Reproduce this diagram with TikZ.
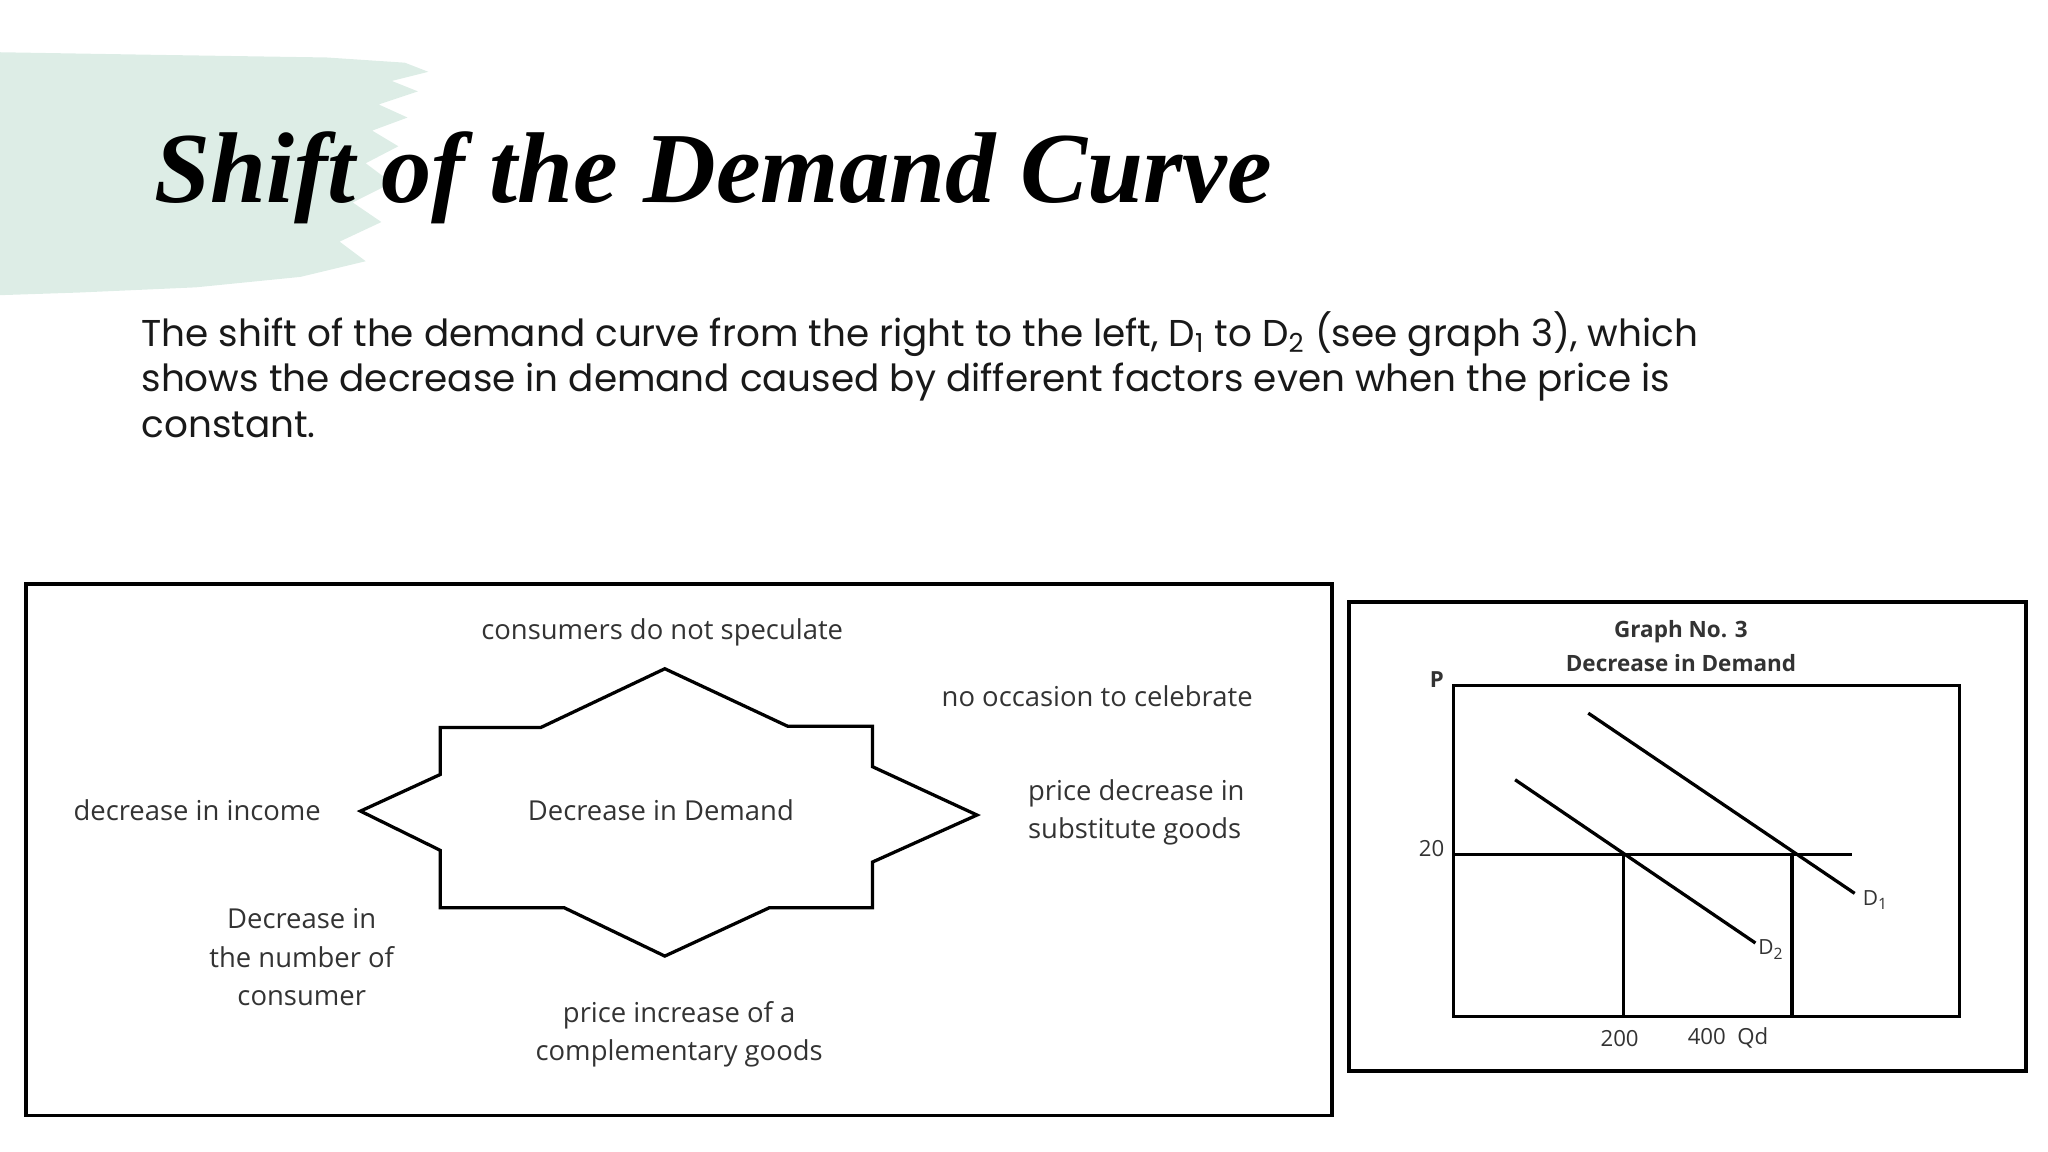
\documentclass[tikz,border=0pt]{standalone}
\usepackage{fontspec}
\setmainfont{Open Sans}
\newfontfamily\titlefont{Liberation Serif}
\newfontfamily\bodyfont{Poppins}
\definecolor{mint}{HTML}{DDEDE6}
\begin{document}
\begin{tikzpicture}[x=0.5pt,y=-0.5pt,
  lbl/.style={font=\fontsize{10.5}{14.8}\selectfont, text=black!80, align=center, inner sep=0},
  frame/.style={draw=black, line width=1.4pt},
  thick line/.style={draw=black, line width=1.25pt},
  body/.style={font=\bodyfont\fontsize{14.3}{17.5}\selectfont, anchor=base west, inner sep=0, text=black!90}]
\useasboundingbox (0,0) rectangle (1568,882);
% mint brush
\fill[mint] (0,40) -- (120,42) -- (250,44) -- (310,48) -- (328,55) -- (300,62) -- (320,70) -- (290,80) -- (312,90) -- (285,100) -- (305,112) -- (280,125) -- (300,140) -- (270,155) -- (292,170) -- (260,185) -- (280,200) -- (230,212) -- (150,220) -- (60,224) -- (0,226) -- cycle;
\node[font=\titlefont\bfseries\itshape\fontsize{38.5}{42}\selectfont, anchor=base west, inner sep=0] (title) at (118,155) {Shift of the Demand Curve};
\node[body] (l1) at (108,265) {The shift of the demand curve from the right to the left, D\textsubscript{1} to D\textsubscript{2} (see graph 3), which};
\node[body] (l2) at (108,300) {shows the decrease in demand caused by different factors even when the price is};
\node[body] (l3) at (108,335) {constant.};
% left box
\draw[frame] (20,447) rectangle (1020,854);
\draw[thick line] (509,512) -- (603,556) -- (668,556) -- (668,587) -- (748,624) -- (668,660) -- (668,695) -- (589,695) -- (509,732) -- (432,695) -- (337,695) -- (337,651) -- (276,621) -- (337,593) -- (337,557) -- (414,557) -- cycle;
\node[lbl] (c) at (506,620) {Decrease in Demand};
\node[lbl] (t1) at (507,484) {consumers do not speculate};
\node[lbl] (t2) at (840,533) {no occasion to celebrate};
\node[lbl] (t3) at (151,620) {decrease in income};
\node[lbl, align=left] (t4) at (870,622) {price decrease in\\substitute goods};
\node[lbl] (t5) at (231,733) {Decrease in\\the number of\\consumer};
\node[lbl] (t6) at (520,792) {price increase of a\\complementary goods};
% graph box
\draw[frame] (1033,461) rectangle (1551,820);
\node[lbl, font=\bfseries\fontsize{8.6}{13}\selectfont] (g) at (1287,495) {Graph No. 3\\Decrease in Demand};
\draw[thick line] (1113,525) rectangle (1500,778);
\coordinate (a1) at (1113,654); \coordinate (a2) at (1418,654);
\draw[thick line] (a1) -- (a2);
\coordinate (e2) at (1243,654); \coordinate (e1) at (1372,654);
\coordinate (b2) at (1243,778); \coordinate (b1) at (1372,778);
\draw[thick line] (e2) -- (b2);
\draw[thick line] (e1) -- (b1);
\node[lbl, font=\fontsize{8}{10}\selectfont] (d1) at (1436,689) {D\textsubscript{1}};
\node[lbl, font=\fontsize{8}{10}\selectfont] (d2) at (1356,727) {D\textsubscript{2}};
\coordinate (d1s) at (1216,546); \coordinate (d1e) at (1420,684);
\coordinate (d2s) at (1160,597); \coordinate (d2e) at (1344,722);
\draw[thick line] (d1s) -- (d1e);
\draw[thick line] (d2s) -- (d2e);
\node[lbl, font=\fontsize{8.5}{10}\selectfont] (p20) at (1096,650) {20};
\node[lbl, font=\bfseries\fontsize{8.5}{10}\selectfont] (pp) at (1100,520) {P};
\node[lbl, font=\fontsize{8.5}{10}\selectfont] (q200) at (1240,795) {200};
\node[lbl, font=\fontsize{8.5}{10}\selectfont] (q400) at (1323,795) {400\ \ Qd};
\end{tikzpicture}
\end{document}
